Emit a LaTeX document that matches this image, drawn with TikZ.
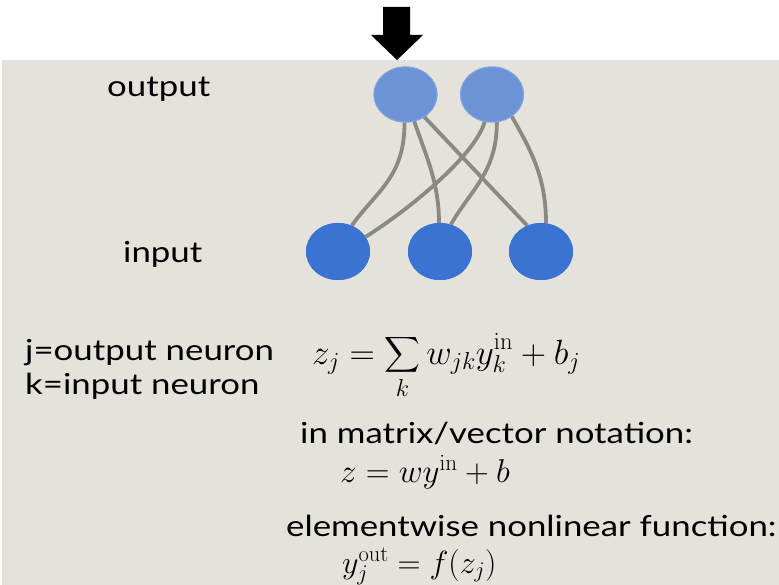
\RequirePackage{fix-cm}
\documentclass[tikz,border=0pt]{standalone}
\usepackage{amsmath}
\usepackage[no-math]{fontspec}
\setmainfont{Lato}[FakeStretch=1.2]
\usetikzlibrary{shapes.geometric}
\definecolor{bgc}{HTML}{E4E2DB}
\definecolor{outc}{HTML}{6D93D7}
\definecolor{outb}{HTML}{7FA3E3}
\definecolor{inc}{HTML}{3B73D3}
\definecolor{edgec}{HTML}{8A8A82}
\tikzset{
  outneuron/.style={ellipse, fill=outc, draw=outb, line width=1pt, minimum width=63pt, minimum height=55pt, inner sep=0pt},
  inneuron/.style={ellipse, fill=inc, minimum width=64pt, minimum height=57pt, inner sep=0pt},
  conn/.style={draw=edgec, line width=3.8pt},
  lbl/.style={anchor=base west, inner sep=0pt, font=\fontsize{29}{34}\selectfont},
  eq/.style={anchor=base west, inner sep=0pt, font=\fontsize{33}{38}\selectfont}
}
\begin{document}
\begin{tikzpicture}[x=1pt,y=-1pt]
\useasboundingbox (0,0) rectangle (779,585);
\fill[white] (0,0) rectangle (779,585);
\fill[bgc] (2,60) rectangle (779,585);
% arrow
\coordinate (tip) at (397,60);
\fill[black] (383,7) -- (410,7) -- (410,35) -- (423,35) -- (tip) -- (371,35) -- (383,35) -- cycle;
% neurons
\node[outneuron] (o1) at (405.5,94.5) {};
\node[outneuron] (o2) at (492,94.5) {};
\node[inneuron] (i1) at (338,251.5) {};
\node[inneuron] (i2) at (440,251.5) {};
\node[inneuron] (i3) at (541,251.5) {};
% connections
\path[conn] (o1.-92) .. controls +(0,55) and +(25,-35) .. (i1.62);
\path[conn] (o1.-72) .. controls +(12,35) and +(0,-40) .. (i2.92);
\path[conn] (o1.-50) -- (i3.118);
\path[conn] (o2.-105) .. controls +(-10,35) and +(40,-25) .. (i1.28);
\path[conn] (o2.-80) .. controls +(0,50) and +(20,-35) .. (i2.68);
\path[conn] (o2.-48) .. controls +(20,35) and +(0,-45) .. (i3.80);
% redraw neurons on top
\node[outneuron] at (o1) {};
\node[outneuron] at (o2) {};
\node[inneuron] at (i1) {};
\node[inneuron] at (i2) {};
\node[inneuron] at (i3) {};
% labels
\node[lbl] (lout) at (107,97) {output};
\node[lbl] (lin) at (123,263) {input};
\node[lbl] (lj) at (25,360) {j=output neuron};
\node[lbl] (lk) at (25,394) {k=input neuron};
\node[eq, font=\fontsize{35}{40}\selectfont] (e1) at (312,364) {$\displaystyle z_j=\sum_k w_{jk}y_k^{\mathrm{in}}+b_j$};
\node[lbl] (lm) at (300,443) {in matrix/vector notation:};
\node[eq] (e2) at (340,482) {$z=wy^{\mathrm{in}}+b$};
\node[lbl] (le) at (286,536) {elementwise nonlinear function:};
\node[eq, font=\fontsize{32}{36}\selectfont] (e3) at (342,573) {$y_j^{\mathrm{out}}=f(z_j)$};
\end{tikzpicture}
\end{document}
